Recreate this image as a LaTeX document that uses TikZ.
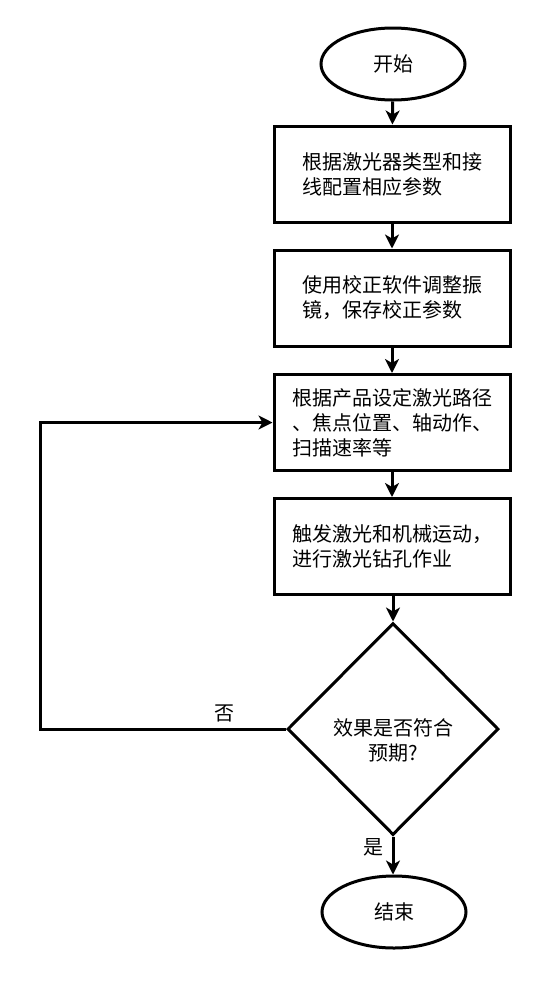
\documentclass[tikz,border=0pt]{standalone}
\usepackage{fontspec}
\setmainfont{Noto Sans CJK SC}
\usetikzlibrary{shapes.geometric,arrows.meta}
\begin{document}
\begin{tikzpicture}[x=1pt,y=-1pt,
  every node/.style={font=\fontsize{20}{25}\selectfont},
  stepbox/.style={draw,line width=3pt,minimum width=236pt,minimum height=96pt,inner sep=0pt,align=left},
  term/.style={draw,ellipse,line width=3pt,minimum width=144pt,minimum height=72pt,inner sep=0pt},
  decide/.style={draw,diamond,line width=3pt,minimum width=211pt,minimum height=212pt,inner sep=0pt},
  arr/.style={line width=3pt,-{Stealth[length=14pt,width=14pt,inset=4pt]}},
  lbl/.style={inner sep=0pt}]
\useasboundingbox (0,0) rectangle (557,994);
\node[term] (start) at (393,64) {开始};
\node[stepbox] (b1) at (392,174) {根据激光器类型和接\\线配置相应参数};
\node[stepbox] (b2) at (392,298) {使用校正软件调整振\\镜，保存校正参数};
\node[stepbox] (b3) at (392,422.5) {根据产品设定激光路径\\、焦点位置、轴动作、\\扫描速率等};
\node[stepbox] (b4) at (392,546.5) {触发激光和机械运动，\\进行激光钻孔作业};
\node[decide] (dec) at (393,729) {};
\node[lbl,align=center] (dect) at (393,740) {效果是否符合\\预期?};
\node[term] (end) at (394,912) {结束};
\coordinate (lp) at (40,729);
\draw[arr] (start) -- (b1);
\draw[arr] (b1) -- (b2);
\draw[arr] (b2) -- (b3);
\draw[arr] (b3) -- (b4);
\draw[arr] (b4.south -| dec.north) -- (dec.north);
\draw[arr] (dec.south) -- (dec.south |- end.north);
\draw[arr] (dec.west) -- (lp) |- (b3.west);
\node[lbl] (no) at (224,713) {否};
\node[lbl] (yes) at (373,847) {是};
\end{tikzpicture}
\end{document}
